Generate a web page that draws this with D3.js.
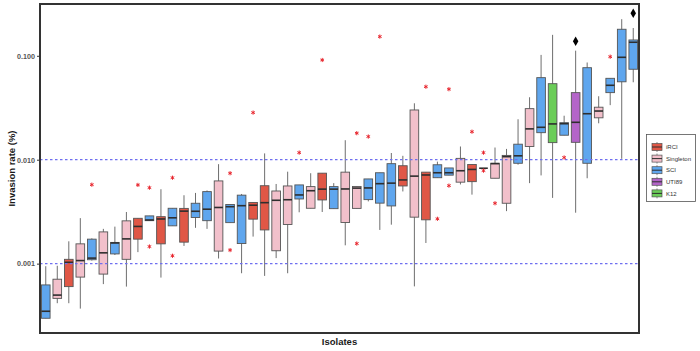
<!DOCTYPE html>
<html>
<head>
<meta charset="utf-8">
<script src="https://cdn.jsdelivr.net/npm/d3@7"></script>
<style>
  body { margin: 0; background: #fff; }
  svg { display: block; font-family: "Liberation Sans", Arial, sans-serif; overflow: visible; }
</style>
</head>
<body>
<div id="chart"></div>
<script>

// --------------------------------------
//  Data
// --------------------------------------

const groupNames = ["iRCI", "Singleton", "SCI", "UTI89", "K12"];

const groups = [
  "SCI","Singleton","iRCI","Singleton","SCI","Singleton","SCI","Singleton","iRCI","SCI",
  "iRCI","SCI","iRCI","SCI","SCI","Singleton","SCI","SCI","iRCI","iRCI",
  "Singleton","Singleton","SCI","Singleton","iRCI","SCI","Singleton","Singleton","SCI","SCI",
  "SCI","iRCI","Singleton","iRCI","SCI","SCI","Singleton","iRCI","Singleton","Singleton",
  "Singleton","SCI","Singleton","SCI","K12","SCI","UTI89","SCI","Singleton","SCI",
  "SCI","SCI"
];

const lowWhisker = [
  0.000298,0.000416,0.000416,0.000369,0.00107,0.000635,0.00121,0.000601,0.00129,0.00259,
  0.000734,0.00231,0.00148,0.00221,0.00216,0.00112,0.00248,0.000808,0.00182,0.000762,
  0.00113,0.000808,0.00312,0.00341,0.00314,0.00338,0.00150,0.00340,0.00397,0.00211,
  0.00237,0.00495,0.000604,0.00158,0.00671,0.00710,0.00578,0.00461,0.00828,0.00663,
  0.00320,0.00896,0.00595,0.00706,0.00429,0.0172,0.00309,0.00663,0.0224,0.0335,
  0.0102,0.0556
];

const q1 = [
  0.000298,0.000463,0.000601,0.000742,0.00109,0.000793,0.00124,0.00110,0.00172,0.00259,
  0.00155,0.00231,0.00161,0.00278,0.00259,0.00132,0.00248,0.00156,0.00268,0.00211,
  0.00133,0.00238,0.00419,0.00341,0.00410,0.00338,0.00249,0.00340,0.00413,0.00382,
  0.00359,0.00559,0.00280,0.00264,0.00671,0.00710,0.00608,0.00615,0.00828,0.00663,
  0.00381,0.00924,0.0134,0.0182,0.0146,0.0172,0.0147,0.00924,0.0253,0.0442,
  0.0562,0.0742
];

const median = [
  0.000348,0.000498,0.00103,0.00107,0.00113,0.00127,0.00158,0.00173,0.00228,0.00263,
  0.00269,0.00276,0.00320,0.00319,0.00334,0.00347,0.00353,0.00361,0.00365,0.00386,
  0.00407,0.00412,0.00458,0.00503,0.00521,0.00521,0.00523,0.00533,0.00535,0.00588,
  0.00595,0.00639,0.00695,0.00713,0.00749,0.00749,0.00783,0.00806,0.00828,0.00916,
  0.0107,0.0109,0.0198,0.0205,0.0221,0.0222,0.0229,0.0277,0.0294,0.0520,
  0.0967,0.135
];

const q3 = [
  0.000624,0.000708,0.00110,0.00155,0.00172,0.00202,0.00160,0.00258,0.00273,0.00288,
  0.00283,0.00341,0.00340,0.00381,0.00493,0.00625,0.00371,0.00456,0.00388,0.00562,
  0.00500,0.00559,0.00572,0.00551,0.00742,0.00551,0.00759,0.00553,0.00653,0.00749,
  0.00916,0.00875,0.0301,0.00759,0.00894,0.00833,0.0103,0.00900,0.00828,0.00924,
  0.0110,0.0141,0.0310,0.0616,0.0539,0.0227,0.0442,0.0768,0.0320,0.0607,
  0.180,0.142
];

const highWhisker = [
  0.000944,0.000954,0.00164,0.00274,0.00175,0.00216,0.00227,0.00314,0.00273,0.00288,
  0.00520,0.00341,0.00455,0.00479,0.00506,0.00906,0.00371,0.00468,0.00388,0.0115,
  0.00584,0.00767,0.00572,0.00741,0.00742,0.00595,0.0154,0.00553,0.00653,0.00749,
  0.0116,0.0109,0.0349,0.00759,0.00958,0.00833,0.0134,0.00900,0.00828,0.0131,
  0.0127,0.0245,0.0399,0.102,0.159,0.0265,0.112,0.0862,0.0408,0.0607,
  0.225,0.185
];

// [isolate number, value]
const outliers = [
  [5,0.00575],[9,0.00572],[10,0.00538],[10,0.00146],[12,0.00671],[12,0.00119],
  [17,0.00741],[17,0.00135],[19,0.0284],[23,0.0117],[25,0.0911],[28,0.0180],
  [28,0.00156],[29,0.0167],[30,0.153],[34,0.0504],[35,0.00270],[36,0.0477],
  [36,0.00563],[38,0.0186],[39,0.0117],[39,0.00785],[40,0.00381],[46,0.0105],
  [50,0.0980]
];

const diamonds = [[47,0.138],[52,0.256]];

const refLines = [0.01, 0.001];
const yTicks = [0.001, 0.01, 0.1];

const isolates = groups.map((g, i) => `isolate${i + 1}`);
const data = groups.map((g, i) => ({
  id: isolates[i], group: g,
  lo: lowWhisker[i], q1: q1[i], med: median[i], q3: q3[i], hi: highWhisker[i]
}));

// --------------------------------------
//  Margin and canvas
// --------------------------------------

const width = 700;
const height = 351;
const margin = {top: 4, right: 61, bottom: 18, left: 40};
const innerWidth = width - margin.left - margin.right;
const innerHeight = height - margin.top - margin.bottom;

const svg = d3.select("#chart")
  .append("svg")
    .attr("width", width)
    .attr("height", height);

const inner = svg.append("g")
    .attr("transform", `translate(${margin.left}, ${margin.top})`);

// --------------------------------------
//  Scales
// --------------------------------------

const x = d3.scaleBand()
    .domain(isolates)
    .range([0, innerWidth])
    .paddingInner(0.25)
    .paddingOuter(0.125);

const y = d3.scaleLog()
    .domain([0.000215, 0.315])
    .range([innerHeight, 0]);

const color = d3.scaleOrdinal()
    .domain(groupNames)
    .range(["#e05746", "#f2c0cb", "#5fa6ee", "#b464c9", "#6bcd58"]);

const cx = d => x(d.id) + x.bandwidth() / 2;

// --------------------------------------
//  Boxes
// --------------------------------------

// whiskers
inner.append("g")
  .selectAll("line")
  .data(data)
  .join("line")
    .attr("x1", cx)
    .attr("x2", cx)
    .attr("y1", d => y(d.lo))
    .attr("y2", d => y(d.hi))
    .attr("stroke", "#6e6e6e")
    .attr("stroke-width", 1);

inner.append("g")
  .selectAll("rect")
  .data(data)
  .join("rect")
    .attr("x", d => x(d.id))
    .attr("width", x.bandwidth())
    .attr("y", d => y(d.q3))
    .attr("height", d => y(d.q1) - y(d.q3))
    .attr("fill", d => color(d.group))
    .attr("stroke", "#555")
    .attr("stroke-width", 0.9);

inner.append("g")
  .selectAll("line")
  .data(data)
  .join("line")
    .attr("x1", d => x(d.id))
    .attr("x2", d => x(d.id) + x.bandwidth())
    .attr("y1", d => y(d.med))
    .attr("y2", d => y(d.med))
    .attr("stroke", "#2e2e2e")
    .attr("stroke-width", 1.6);

// outliers
inner.append("g")
  .selectAll("path")
  .data(outliers)
  .join("path")
    .attr("transform", d => `translate(${x(isolates[d[0] - 1]) + x.bandwidth() / 2}, ${y(d[1])})`)
    .attr("d", d3.symbol(d3.symbolAsterisk, 12))
    .attr("fill", "none")
    .attr("stroke", "#e8262e")
    .attr("stroke-width", 1);

inner.append("g")
  .selectAll("path")
  .data(diamonds)
  .join("path")
    .attr("transform", d => `translate(${x(isolates[d[0] - 1]) + x.bandwidth() / 2}, ${y(d[1])})`)
    .attr("d", d3.symbol(d3.symbolDiamond, 26))
    .attr("fill", "#000");

// dashed reference lines
inner.append("g")
  .selectAll("line")
  .data(refLines)
  .join("line")
    .attr("x1", 0)
    .attr("x2", innerWidth)
    .attr("y1", d => y(d))
    .attr("y2", d => y(d))
    .attr("stroke", "#6f6ff0")
    .attr("stroke-width", 1.2)
    .attr("stroke-dasharray", "2.5,2.5");

// panel border
inner.append("rect")
    .attr("width", innerWidth)
    .attr("height", innerHeight)
    .attr("fill", "none")
    .attr("stroke", "#333")
    .attr("stroke-width", 2);

// --------------------------------------
//  Axes
// --------------------------------------

const yAxis = inner.append("g")
    .attr("font-family", "'Liberation Sans', Arial, sans-serif")
    .attr("font-size", 7.2)
    .attr("font-weight", "bold")
    .call(d3.axisLeft(y)
      .tickValues(yTicks)
      .tickFormat(d3.format(".3f"))
      .tickSize(3)
      .tickPadding(2));

yAxis.attr("font-size", 7.2).attr("font-family", "'Liberation Sans', Arial, sans-serif");
yAxis.select(".domain").remove();
yAxis.selectAll("line").attr("stroke", "#333");
yAxis.selectAll("text")
    .attr("fill", "#555")
    .attr("font-size", 7.2)
    .attr("font-weight", "bold");

svg.append("text")
    .attr("transform", `translate(12, ${margin.top + innerHeight / 2}) rotate(-90)`)
    .attr("text-anchor", "middle")
    .attr("y", 3.3)
    .attr("fill", "#1a1a1a")
    .attr("font-size", 9.5)
    .attr("font-weight", "bold")
    .text("Invasion rate (%)");

svg.append("text")
    .attr("x", margin.left + innerWidth / 2)
    .attr("y", 345)
    .attr("text-anchor", "middle")
    .attr("fill", "#1a1a1a")
    .attr("font-size", 9.5)
    .attr("font-weight", "bold")
    .text("Isolates");

// --------------------------------------
//  Legend
// --------------------------------------

const legend = svg.append("g")
    .attr("transform", "translate(646.5, 134.5)");

legend.append("rect")
    .attr("width", 49)
    .attr("height", 67)
    .attr("fill", "#fff")
    .attr("stroke", "#555")
    .attr("stroke-width", 0.8);

const items = legend.selectAll(".item")
  .data(groupNames)
  .join("g")
    .attr("class", "item")
    .attr("transform", (d, i) => `translate(0, ${12.5 + i * 11.6})`);

items.append("line")
    .attr("x1", 10.5).attr("x2", 10.5)
    .attr("y1", -5).attr("y2", 5)
    .attr("stroke", "#6e6e6e")
    .attr("stroke-width", 0.8);

items.append("rect")
    .attr("x", 5.5)
    .attr("y", -3.5)
    .attr("width", 10)
    .attr("height", 7)
    .attr("fill", d => color(d))
    .attr("stroke", "#555")
    .attr("stroke-width", 0.7);

items.append("line")
    .attr("x1", 5.5).attr("x2", 15.5)
    .attr("y1", 0).attr("y2", 0)
    .attr("stroke", "#2e2e2e")
    .attr("stroke-width", 1);

items.append("text")
    .attr("x", 19.5)
    .attr("y", 2.2)
    .attr("fill", "#333")
    .attr("font-size", 6)
    .text(d => d);

</script>
</body>
</html>
